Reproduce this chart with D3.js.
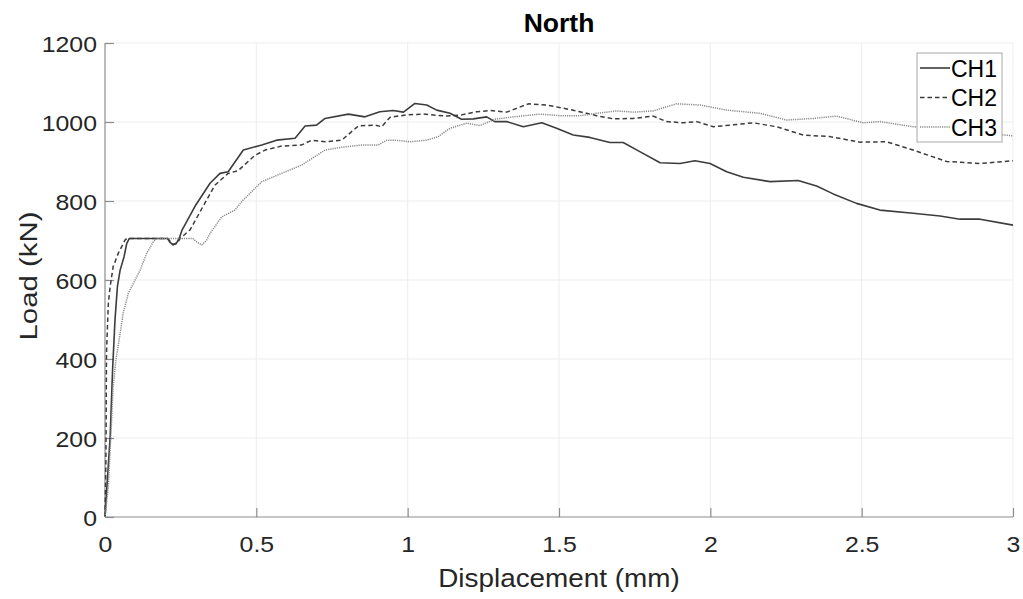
<!DOCTYPE html>
<html>
<head>
<meta charset="utf-8">
<script src="https://cdn.jsdelivr.net/npm/d3@7"></script>
<style>
    body { margin: 0; background: #fff; }
    svg { display: block; font-family: "Liberation Sans", Arial, sans-serif; }
</style>
</head>
<body>
<div id="chart"></div>
<script>
//load vs displacement, north side -- three channels

var seriesNames = ["CH1", "CH2", "CH3"];

var ch1Disp = [0, 0.005, 0.017, 0.025, 0.033, 0.041, 0.05, 0.063, 0.072, 0.08, 0.207, 0.215, 0.225, 0.235, 0.245, 0.255, 0.3, 0.347, 0.38, 0.407, 0.457, 0.518, 0.567, 0.628, 0.661, 0.699, 0.727, 0.804, 0.859, 0.908, 0.952, 0.986, 1.024, 1.063, 1.096, 1.14, 1.178, 1.217, 1.261, 1.288, 1.327, 1.382, 1.443, 1.492, 1.547, 1.602, 1.668, 1.712, 1.767, 1.834, 1.9, 1.949, 1.999, 2.054, 2.109, 2.197, 2.29, 2.351, 2.406, 2.483, 2.56, 2.67, 2.759, 2.825, 2.891, 3.0];
var ch1Load = [0, 60, 203, 372, 499, 583, 625, 659, 693, 705, 705, 695, 689, 692, 705, 727, 790, 845, 870, 874, 929, 942, 954, 959, 990, 992, 1009, 1020, 1013, 1026, 1029, 1025, 1047, 1043, 1030, 1022, 1007, 1008, 1013, 1001, 1001, 988, 998, 984, 967, 961, 948, 948, 925, 897, 895, 902, 895, 874, 860, 849, 852, 838, 818, 794, 777, 769, 762, 754, 754, 739];

var ch2Disp = [0, 0.003, 0.005, 0.011, 0.017, 0.027, 0.044, 0.066, 0.072, 0.207, 0.225, 0.24, 0.248, 0.281, 0.363, 0.407, 0.44, 0.496, 0.529, 0.584, 0.65, 0.683, 0.727, 0.782, 0.837, 0.892, 0.914, 0.942, 0.997, 1.052, 1.129, 1.178, 1.228, 1.272, 1.327, 1.399, 1.459, 1.514, 1.569, 1.624, 1.679, 1.745, 1.811, 1.855, 1.911, 1.955, 2.01, 2.065, 2.142, 2.219, 2.307, 2.395, 2.494, 2.582, 2.67, 2.781, 2.891, 3.0];
var ch2Load = [0, 144, 415, 541, 583, 634, 668, 701, 705, 705, 690, 695, 705, 727, 840, 870, 877, 916, 929, 939, 942, 954, 950, 954, 990, 992, 988, 1012, 1018, 1020, 1015, 1018, 1026, 1029, 1025, 1046, 1043, 1035, 1026, 1016, 1008, 1009, 1015, 1001, 998, 1001, 988, 992, 998, 988, 967, 963, 949, 950, 929, 900, 895, 902];

var ch3Disp = [0, 0.011, 0.022, 0.027, 0.036, 0.05, 0.06, 0.077, 0.094, 0.116, 0.138, 0.16, 0.171, 0.29, 0.305, 0.32, 0.335, 0.347, 0.386, 0.429, 0.456, 0.518, 0.584, 0.65, 0.727, 0.782, 0.848, 0.903, 0.931, 0.958, 1.008, 1.063, 1.101, 1.14, 1.195, 1.239, 1.288, 1.349, 1.437, 1.503, 1.569, 1.624, 1.69, 1.745, 1.811, 1.888, 1.966, 2.054, 2.164, 2.252, 2.34, 2.417, 2.505, 2.56, 2.67, 2.76, 2.9, 3.0];
var ch3Load = [0, 77, 246, 330, 397, 465, 516, 566, 592, 625, 668, 697, 705, 705, 695, 689, 700, 718, 760, 777, 802, 849, 870, 891, 929, 936, 942, 942, 954, 954, 950, 954, 963, 984, 997, 991, 1007, 1013, 1020, 1016, 1016, 1022, 1028, 1025, 1028, 1046, 1043, 1030, 1022, 1005, 1009, 1015, 998, 1001, 988, 982, 972, 965];

var xTicks = [0, 0.5, 1, 1.5, 2, 2.5, 3];
var yTicks = [0, 200, 400, 600, 800, 1000, 1200];

var width = 1023, height = 599;
var margin = {top: 43, right: 10, bottom: 82, left: 105};
var plotW = 1013 - margin.left;
var plotH = 517 - margin.top;

var svg = d3.select("#chart").append("svg")
    .attr("width", width)
    .attr("height", height);

var x = d3.scaleLinear().domain([0, 3]).range([margin.left, margin.left + plotW]);
var y = d3.scaleLinear().domain([0, 1200]).range([margin.top + plotH, margin.top]);

//grid first, very faint
svg.append("g").selectAll("line.vg")
    .data(xTicks.slice(1))
    .enter().append("line")
    .attr("x1", function(d) { return x(d); })
    .attr("x2", function(d) { return x(d); })
    .attr("y1", y(0)).attr("y2", y(1200))
    .attr("stroke", "#ededed").attr("stroke-width", 1);

svg.append("g").selectAll("line.hg")
    .data(yTicks.slice(1))
    .enter().append("line")
    .attr("y1", function(d) { return y(d); })
    .attr("y2", function(d) { return y(d); })
    .attr("x1", x(0)).attr("x2", x(3))
    .attr("stroke", "#ededed").attr("stroke-width", 1);

//axes - ticks point inward like matlab
var xAxis = d3.axisBottom(x).tickValues(xTicks).tickSize(-9).tickPadding(19)
    .tickFormat(function(d) { return String(d); });
var yAxis = d3.axisLeft(y).tickValues(yTicks).tickSize(-9).tickPadding(8)
    .tickFormat(function(d) { return String(d); });

var gx = svg.append("g").attr("transform", "translate(0," + y(0) + ")").call(xAxis);
var gy = svg.append("g").attr("transform", "translate(" + x(0) + ",0)").call(yAxis);

[gx, gy].forEach(function(g) {
    g.select(".domain").attr("stroke", "#8c8c8c").attr("stroke-width", 1.2);
    g.selectAll(".tick line").attr("stroke", "#8c8c8c").attr("stroke-width", 1.2);
    g.selectAll(".tick text")
        .attr("fill", "#262626")
        .style("font-size", "22px")
        .style("font-family", "Liberation Sans, Arial, sans-serif");
});
//matlab text is a bit wider than arial, stretch it
gx.selectAll(".tick text").attr("transform", "scale(1.13,1)");
gy.selectAll(".tick text")
    .attr("x", 0).attr("dy", "0.39em")
    .attr("transform", "translate(-8,0) scale(1.13,1)");

//drop the top/right tick overhang of the domain path
gx.select(".domain").attr("d", "M" + x(0) + ",0H" + x(3));
gy.select(".domain").attr("d", "M0," + y(0) + "V" + y(1200));

//series lines
var seriesData = [
    ch1Disp.map(function(d, i) { return [d, ch1Load[i]]; }),
    ch2Disp.map(function(d, i) { return [d, ch2Load[i]]; }),
    ch3Disp.map(function(d, i) { return [d, ch3Load[i]]; })
];
var strokes = ["#3c3c3c", "#3c3c3c", "#8a8a8a"];
var dashes = [null, "4.5,3", "1.2,1"];
var widths = [1.6, 1.5, 1.5];

var line = d3.line()
    .x(function(p) { return x(p[0]); })
    .y(function(p) { return y(p[1]); });

svg.append("g").selectAll("path.series")
    .data(seriesData)
    .enter().append("path")
    .attr("d", line)
    .attr("fill", "none")
    .attr("stroke", function(d, i) { return strokes[i]; })
    .attr("stroke-width", function(d, i) { return widths[i]; })
    .attr("stroke-dasharray", function(d, i) { return dashes[i]; })
    .attr("stroke-linejoin", "round");

//legend box, white so it hides CH3 behind it
var leg = svg.append("g");
leg.append("rect")
    .attr("x", 917).attr("y", 53)
    .attr("width", 85).attr("height", 89)
    .attr("fill", "#fff")
    .attr("stroke", "#a8a8a8").attr("stroke-width", 1);

var legY = [68, 97.5, 127];
seriesNames.forEach(function(name, i) {
    leg.append("line")
        .attr("x1", 920).attr("x2", 950)
        .attr("y1", legY[i]).attr("y2", legY[i])
        .attr("stroke", strokes[i])
        .attr("stroke-width", widths[i])
        .attr("stroke-dasharray", dashes[i]);
    leg.append("text")
        .attr("x", 951).attr("y", legY[i] + 8.5)
        .attr("fill", "#000")
        .style("font-size", "23px")
        .text(name);
});

//labels + title
svg.append("text")
    .attr("transform", "translate(" + x(1.5) + ",587) scale(1.115,1)")
    .attr("text-anchor", "middle")
    .attr("fill", "#262626")
    .style("font-size", "25px")
    .text("Displacement (mm)");

svg.append("text")
    .attr("transform", "translate(36.5,276) rotate(-90) scale(1.2,1)")
    .attr("text-anchor", "middle")
    .attr("fill", "#262626")
    .style("font-size", "24.5px")
    .text("Load (kN)");

svg.append("text")
    .attr("x", x(1.5)).attr("y", 31.5)
    .attr("text-anchor", "middle")
    .attr("fill", "#000")
    .style("font-size", "26.5px")
    .style("font-weight", "bold")
    .text("North");
</script>
</body>
</html>
